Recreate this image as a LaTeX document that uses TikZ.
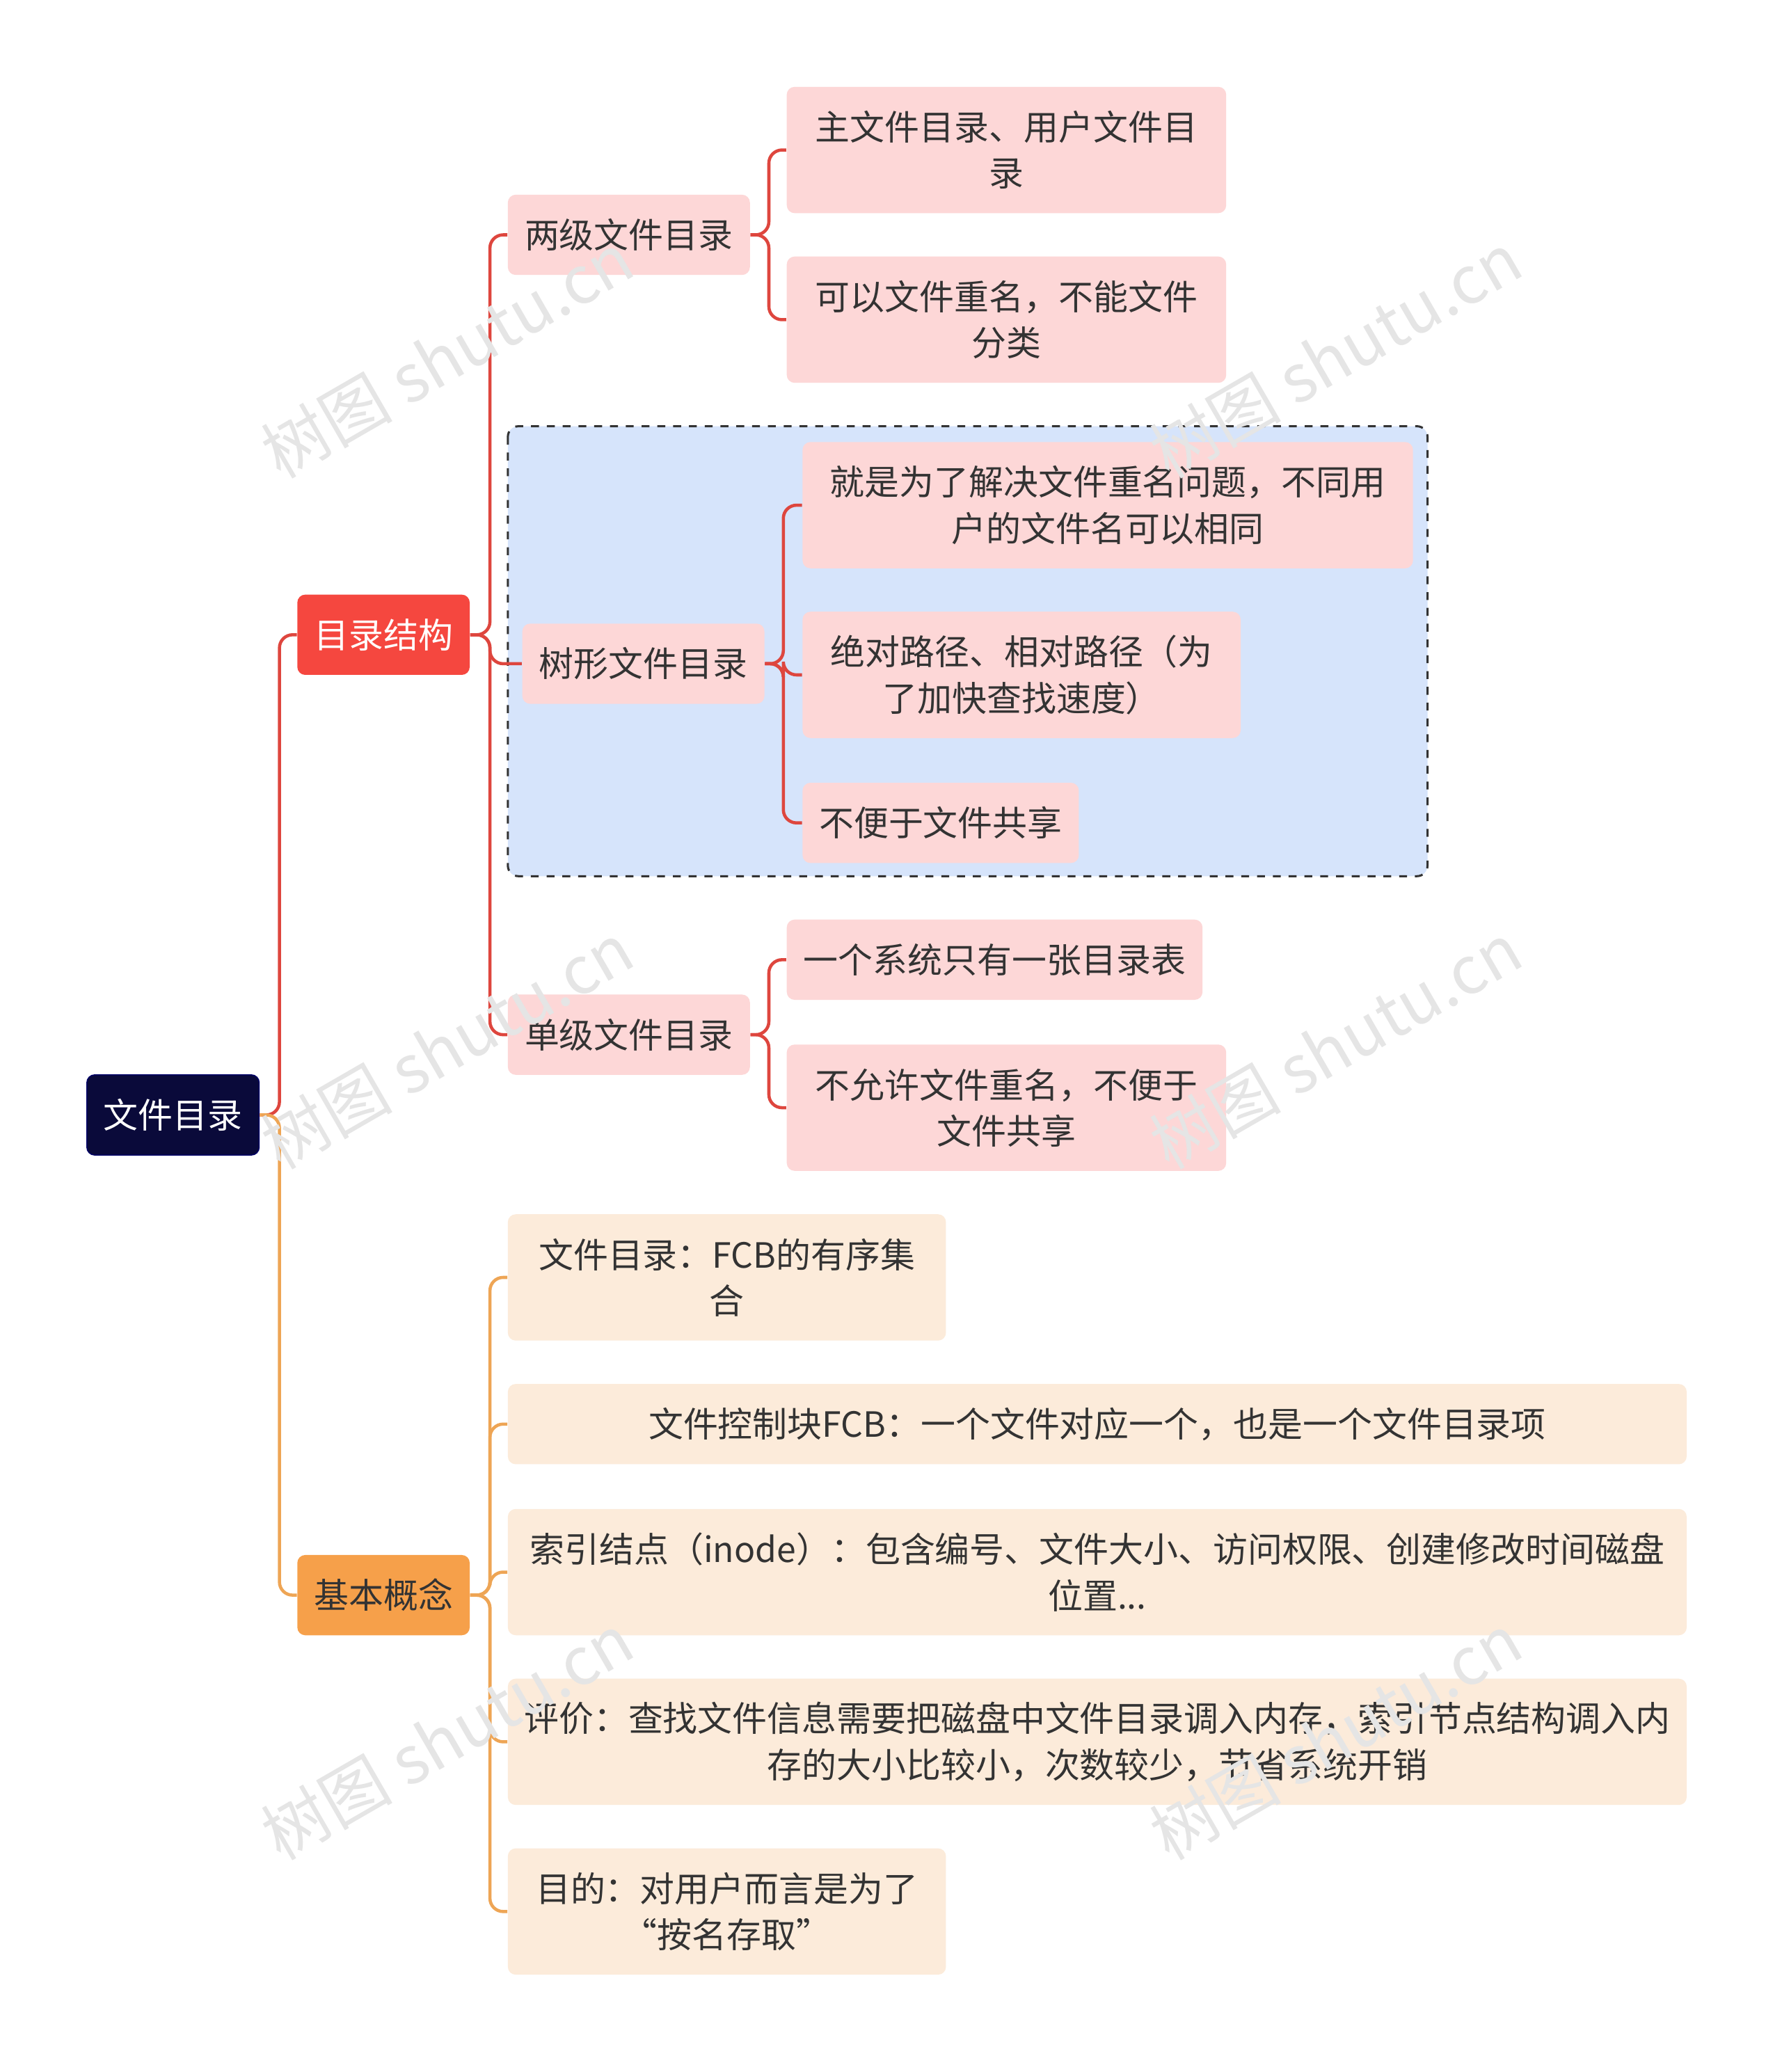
\documentclass[tikz,border=0pt]{standalone}
\usepackage{fontspec}
\setmainfont{Noto Sans CJK SC}
\begin{document}
\begin{tikzpicture}[x=0.5pt,y=-0.5pt,
  bx/.style={rounded corners=3pt,align=center,font=\fontsize{13.2pt}{17.5pt}\selectfont,inner sep=0pt,text=black!80},
  rl/.style={line width=1.2pt,rounded corners=5pt,color={rgb,255:red,222;green,70;blue,62}},
  ol/.style={line width=1.2pt,rounded corners=5pt,color={rgb,255:red,238;green,165;blue,85}},
  rleaf/.style={bx,fill={rgb,255:red,253;green,215;blue,215}},
  oleaf/.style={bx,fill={rgb,255:red,252;green,235;blue,218}},
  wm/.style={rotate=30,text=black!10,font=\fontsize{25pt}{25pt}\selectfont}]
\useasboundingbox (0,0) rectangle (1354,1575);
\fill[white] (0,0) rectangle (1354,1575);
\draw[dashed,line width=0.8pt,draw=black!80,fill={rgb,255:red,214;green,228;blue,251},rounded corners=4pt] (386,324) rectangle (1085,666);
\node[bx,fill={rgb,255:red,10;green,10;blue,58},draw=blue!40!black,text=white,minimum width=65.5pt,minimum height=30.5pt] (root) at (131.5,847.5) {文件目录};
\node[bx,fill={rgb,255:red,245;green,71;blue,63},text=white,minimum width=65.5pt,minimum height=30.5pt] (mulu) at (291.5,482.5) {目录结构};
\node[bx,fill={rgb,255:red,246;green,160;blue,74},minimum width=65.5pt,minimum height=30.5pt] (jiben) at (291.5,1212.5) {基本概念};
\node[rleaf,minimum width=92pt,minimum height=30.5pt] (liangji) at (478,178.5) {两级文件目录};
\node[rleaf,minimum width=92pt,minimum height=30.5pt] (shuxing) at (489,504.5) {树形文件目录};
\node[rleaf,minimum width=92pt,minimum height=30.5pt] (danji) at (478,786.5) {单级文件目录};
\node[rleaf,minimum width=167pt,minimum height=48pt] (l1) at (765,114) {主文件目录、用户文件目\\录};
\node[rleaf,minimum width=167pt,minimum height=48pt] (l2) at (765,243) {可以文件重名，不能文件\\分类};
\node[rleaf,minimum width=232pt,minimum height=48pt] (l3) at (842,384) {就是为了解决文件重名问题，不同用\\户的文件名可以相同};
\node[rleaf,minimum width=166.5pt,minimum height=48pt] (l4) at (776.5,513) {绝对路径、相对路径（为\\了加快查找速度）};
\node[rleaf,minimum width=105pt,minimum height=30.5pt] (l5) at (715,625.5) {不便于文件共享};
\node[rleaf,minimum width=158pt,minimum height=30.5pt] (l6) at (756,729.5) {一个系统只有一张目录表};
\node[rleaf,minimum width=167pt,minimum height=48pt] (l7) at (765,842) {不允许文件重名，不便于\\文件共享};
\node[oleaf,minimum width=166.5pt,minimum height=48pt] (o1) at (552.5,971) {文件目录：FCB的有序集\\合};
\node[oleaf,minimum width=448pt,minimum height=30.5pt] (o2) at (834,1082.5) {文件控制块FCB：一个文件对应一个，也是一个文件目录项};
\node[oleaf,minimum width=448pt,minimum height=48pt] (o3) at (834,1195) {索引结点（inode）：包含编号、文件大小、访问权限、创建修改时间磁盘\\位置...};
\node[oleaf,minimum width=448pt,minimum height=48pt] (o4) at (834,1324) {评价：查找文件信息需要把磁盘中文件目录调入内存，索引节点结构调入内\\存的大小比较小，次数较少，节省系统开销};
\node[oleaf,minimum width=166.5pt,minimum height=48pt] (o5) at (552.5,1453) {目的：对用户而言是为了\\“按名存取”};
\draw[rl] (root.east) -- ++(7.5pt,0) |- (mulu.west);
\draw[ol] (root.east) -- ++(7.5pt,0) |- (jiben.west);
\foreach \c in {liangji,shuxing,danji} \draw[rl] (mulu.east) -- ++(7.5pt,0) |- (\c.west);
\foreach \c in {l1,l2} \draw[rl] (liangji.east) -- ++(7pt,0) |- (\c.west);
\foreach \c in {l3,l4,l5} \draw[rl] (shuxing.east) -- ++(7pt,0) |- (\c.west);
\foreach \c in {l6,l7} \draw[rl] (danji.east) -- ++(7pt,0) |- (\c.west);
\foreach \c in {o1,o2,o3,o4,o5} \draw[ol] (jiben.east) -- ++(7.5pt,0) |- (\c.west);
\foreach \p in {(340,270),(1015,270),(340,795),(1015,795),(340,1320),(1015,1320)} \node[wm] at \p {树图 shutu.cn};
\end{tikzpicture}
\end{document}
